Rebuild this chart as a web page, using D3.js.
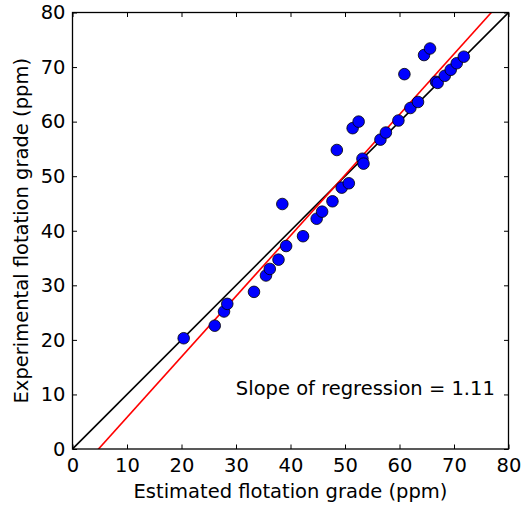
<!DOCTYPE html>
<html>
<head>
<meta charset="utf-8">
<script src="https://cdn.jsdelivr.net/npm/d3@7"></script>
<style>
body { margin: 0; background: #fff; }
text { font-family: "DejaVu Sans", sans-serif; }
</style>
</head>
<body>
<div id="chart"></div>
<script>
// estimated vs experimental grade (ppm)
var estimated = [20.4, 26.1, 27.8, 28.4, 33.3, 35.5, 36.2, 37.8, 38.5, 39.2, 42.3, 44.8, 45.8, 47.7, 48.5, 49.4, 50.7, 51.4, 52.5, 53.2, 53.4, 56.5, 57.5, 59.8, 60.9, 62.0, 63.4, 64.5, 65.6, 66.7, 67.0, 68.3, 69.4, 70.5, 71.8]
var experimental = [20.3, 22.6, 25.2, 26.6, 28.8, 31.8, 33.0, 34.7, 44.9, 37.2, 39.0, 42.2, 43.5, 45.4, 54.8, 47.9, 48.7, 58.8, 60.0, 53.2, 52.3, 56.7, 58.0, 60.2, 68.7, 62.5, 63.6, 72.2, 73.4, 67.3, 67.1, 68.4, 69.5, 70.7, 71.9]
var tickValues = [0, 10, 20, 30, 40, 50, 60, 70, 80]
var slope = 1.11
var intercept = -5.3

t()
function t() {
  var W = 522, H = 509
  var margin = { top: 12.5, right: 13.5, bottom: 60, left: 72.5 }
  var width = W - margin.left - margin.right
  var height = H - margin.top - margin.bottom
  var fs = 19.5

  var svg = d3.select("#chart").append("svg")
    .attr("width", W).attr("height", H)

  var x = d3.scaleLinear().domain([0, 80]).range([0, width])
  var y = d3.scaleLinear().domain([0, 80]).range([height, 0])

  var g = svg.append("g")
    .attr("transform", "translate(" + margin.left + "," + margin.top + ")")

  g.append("clipPath").attr("id", "clip")
    .append("rect").attr("width", width).attr("height", height)

  var plot = g.append("g").attr("clip-path", "url(#clip)")

  // 1:1 line
  plot.append("line")
    .attr("x1", x(0)).attr("y1", y(0))
    .attr("x2", x(80)).attr("y2", y(80))
    .attr("stroke", "black").attr("stroke-width", 1.6)

  // regression line
  plot.append("line")
    .attr("x1", x(0)).attr("y1", y(intercept))
    .attr("x2", x(80)).attr("y2", y(intercept + slope * 80))
    .attr("stroke", "red").attr("stroke-width", 1.6)

  var pts = estimated.map((e, i) => ({ e: e, m: experimental[i] }))

  g.append("g").selectAll("circle").data(pts).enter().append("circle")
    .attr("cx", d => x(d.e))
    .attr("cy", d => y(d.m))
    .attr("r", 5.8)
    .attr("fill", "#0000ff")
    .attr("stroke", "black")
    .attr("stroke-width", 0.8)

  // ticks on all four sides, pointing inward
  var tl = 4.5
  function styleAxis(sel) {
    sel.select(".domain").remove()
    sel.selectAll("line").attr("stroke", "black").attr("stroke-width", 1)
    sel.selectAll("text").attr("font-size", fs).attr("fill", "black")
  }
  g.append("g").attr("transform", "translate(0," + height + ")")
    .call(d3.axisBottom(x).tickValues(tickValues).tickSizeInner(-tl).tickSizeOuter(0))
    .call(styleAxis)
    .call(a => a.selectAll("text").attr("y", 9).attr("dy", "0.71em"))
  g.append("g")
    .call(d3.axisTop(x).tickValues(tickValues).tickSizeInner(-tl).tickSizeOuter(0))
    .call(styleAxis)
    .call(a => a.selectAll("text").remove())
  g.append("g")
    .call(d3.axisLeft(y).tickValues(tickValues).tickSizeInner(-tl).tickSizeOuter(0))
    .call(styleAxis)
    .call(a => a.selectAll("text").attr("x", -7))
  g.append("g").attr("transform", "translate(" + width + ",0)")
    .call(d3.axisRight(y).tickValues(tickValues).tickSizeInner(-tl).tickSizeOuter(0))
    .call(styleAxis)
    .call(a => a.selectAll("text").remove())

  // frame
  g.append("rect")
    .attr("width", width).attr("height", height)
    .attr("fill", "none").attr("stroke", "black").attr("stroke-width", 1.3)

  g.append("text")
    .attr("x", x(77.5)).attr("y", y(9.9))
    .attr("text-anchor", "end")
    .attr("font-size", fs)
    .text("Slope of regression = " + slope.toFixed(2))

  svg.append("text")
    .attr("x", margin.left + width / 2).attr("y", 498)
    .attr("text-anchor", "middle")
    .attr("font-size", fs)
    .text("Estimated flotation grade (ppm)")

  svg.append("text")
    .attr("transform", "translate(28," + (margin.top + height / 2) + ") rotate(-90)")
    .attr("text-anchor", "middle")
    .attr("font-size", fs)
    .text("Experimental flotation grade (ppm)")
}
</script>
</body>
</html>
